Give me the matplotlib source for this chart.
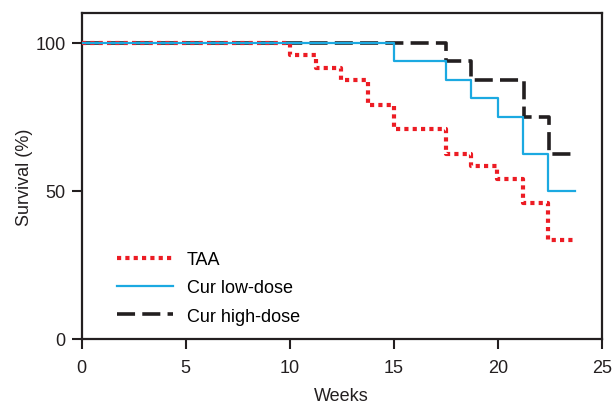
import matplotlib
matplotlib.use("Agg")
import matplotlib.pyplot as plt

plt.rcParams['font.family'] = ['Liberation Sans', 'DejaVu Sans']

# Kaplan-Meier steps (weeks, % survival)
taa_weeks = [0, 10, 11.25, 12.45, 13.75, 15, 17.5, 18.7, 19.95, 21.2, 22.4, 23.7]
taa_surv = [100, 95.83, 91.67, 87.5, 79.17, 70.83, 62.5, 58.33, 54.17, 45.83, 33.33, 33.33]

low_weeks = [0, 15, 17.5, 18.7, 20, 21.2, 22.4, 23.7]
low_surv = [100, 93.75, 87.5, 81.25, 75, 62.5, 50, 50]

high_weeks = [0, 17.5, 18.7, 21.25, 22.45, 23.7]
high_surv = [100, 93.75, 87.5, 75, 62.5, 62.5]

x_ticks = [0, 5, 10, 15, 20, 25]
y_ticks = [0, 50, 100]

red = '#ec1c24'
blue = '#1ba9e1'
black = '#231f20'
fs = 13

fig = plt.figure(figsize=(6.13, 4.06), dpi=100)
ax = fig.add_axes([0.133, 0.1626, 0.849, 0.8022])

ax.step(high_weeks, high_surv, where='post', color=black, lw=2.6,
        linestyle=(0, (5, 2)), dash_capstyle='butt', label='Cur high-dose', zorder=2)
ax.step(taa_weeks, taa_surv, where='post', color=red, lw=3,
        linestyle=(0, (1, 1)), dash_capstyle='butt', label='TAA', zorder=3)
ax.step(low_weeks, low_surv, where='post', color=blue, lw=1.6,
        label='Cur low-dose', zorder=4)

ax.set_xlim(0, 25)
ax.set_ylim(0, 110)
ax.set_xticks(x_ticks)
ax.set_yticks(y_ticks)
ax.tick_params(direction='out', length=7.5, width=1.5, color=black,
               labelsize=fs, labelcolor=black)
ax.tick_params(axis='x', pad=7)
ax.tick_params(axis='y', pad=4)
for sp in ax.spines.values():
    sp.set_linewidth(1.6)
    sp.set_color(black)

ax.set_xlabel('Weeks', fontsize=fs, color=black, labelpad=8)
ax.set_ylabel('Survival (%)', fontsize=fs, color=black, labelpad=1.5)

h, l = ax.get_legend_handles_labels()
order = [1, 2, 0]
ax.legend([h[i] for i in order], [l[i] for i in order],
          loc='upper left', bbox_to_anchor=(116.7 / 613, 1 - 252 / 406),
          bbox_transform=fig.transFigure, frameon=False, fontsize=fs,
          handlelength=3.1, handletextpad=0.8, labelspacing=0.63,
          borderpad=0, borderaxespad=0)

fig.savefig('out.png', dpi=100)
